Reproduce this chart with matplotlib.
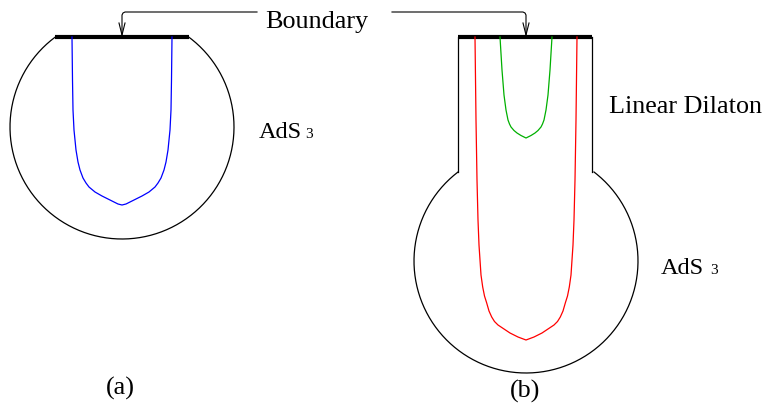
import matplotlib.pyplot as plt
import numpy as np

# left halves of the symmetric curves (pixel coords, y downwards)
blue_x = [72, 72.5, 73, 74, 76, 78, 80, 83, 86, 89, 95, 102, 110, 118, 122]
blue_y = [37, 80, 110, 130, 150, 162, 170, 178, 183, 187, 192, 196, 200, 204, 205]
green_x = [500, 502, 504, 506, 508, 509.5, 511, 514, 517, 521, 526]
green_y = [37, 70, 95, 110, 120, 124, 127, 130.5, 133, 135.5, 138]
red_x = [475, 476, 477, 478, 479, 480, 481, 482.7, 484.5, 486.7, 489, 491.7,
         494.5, 498, 504, 510, 518, 526]
red_y = [37, 120, 180, 220, 245, 260, 275, 287, 296, 303, 311, 317,
         321.5, 325, 329, 333, 337, 340]

# circles: centre x, centre y, radius, y where cut
circle_a = (122, 127, 112, 37)
circle_b = (526, 261, 112, 172)

plt.rcParams['font.family'] = 'Liberation Serif'

fig = plt.figure(figsize=(7.69, 4.03), dpi=100)
ax = fig.add_axes([0, 0, 1, 1])
ax.set_xlim(0, 769)
ax.set_ylim(403, 0)
ax.axis('off')


def arc(c):
    cx, cy, r, ycut = c
    t0 = np.arcsin((cy - ycut) / r)
    t = np.linspace(np.pi - t0, 2 * np.pi + t0, 300)
    ax.plot(cx + r * np.cos(t), cy - r * np.sin(t), color='black', lw=0.9)


def curve(xs, ys, cx, col):
    xs = np.array(xs, dtype=float)
    ys = np.array(ys, dtype=float)
    x = np.concatenate([xs, 2 * cx - xs[::-1][1:]])
    y = np.concatenate([ys, ys[::-1][1:]])
    ax.plot(x, y, color=col, lw=0.9)


arc(circle_a)
arc(circle_b)
# walls of the linear dilaton throat
ax.plot([458, 458], [37, 172], color='black', lw=0.9)
ax.plot([592, 592], [37, 172], color='black', lw=0.9)

# boundaries
ax.plot([55, 189], [37, 37], color='black', lw=3, solid_capstyle='butt')
ax.plot([458, 592], [37, 37], color='black', lw=3, solid_capstyle='butt')

curve(blue_x, blue_y, 122, '#0000ff')
curve(red_x, red_y, 526, '#ff0000')
curve(green_x, green_y, 526, '#00b000')

# arrows
ax.plot([122, 122, 123, 125, 257], [35, 15, 13, 12, 12], color='black', lw=0.8)
ax.plot([392, 523, 525, 526, 526], [12, 12, 13, 15, 35], color='black', lw=0.8)
for x in [122, 526]:
    ax.plot([x - 3, x, x + 3], [23, 35, 23], color='black', lw=0.8)

fs = 18.8
ax.text(317, 28, 'Boundary', fontsize=fs, ha='center', va='baseline')
ax.text(609, 113, 'Linear Dilaton', fontsize=fs, ha='left', va='baseline')
ax.text(259, 138, 'AdS', fontsize=17.5, ha='left', va='baseline')
ax.text(305, 138, '3', fontsize=11, ha='left', va='baseline')
ax.text(661, 274, 'AdS', fontsize=17.5, ha='left', va='baseline')
ax.text(710, 274, '3', fontsize=11, ha='left', va='baseline')
ax.text(120, 395, '(a)', fontsize=fs, ha='center', va='baseline')
ax.text(525, 398, '(b)', fontsize=fs, ha='center', va='baseline')

fig.savefig('out.png', dpi=100)
